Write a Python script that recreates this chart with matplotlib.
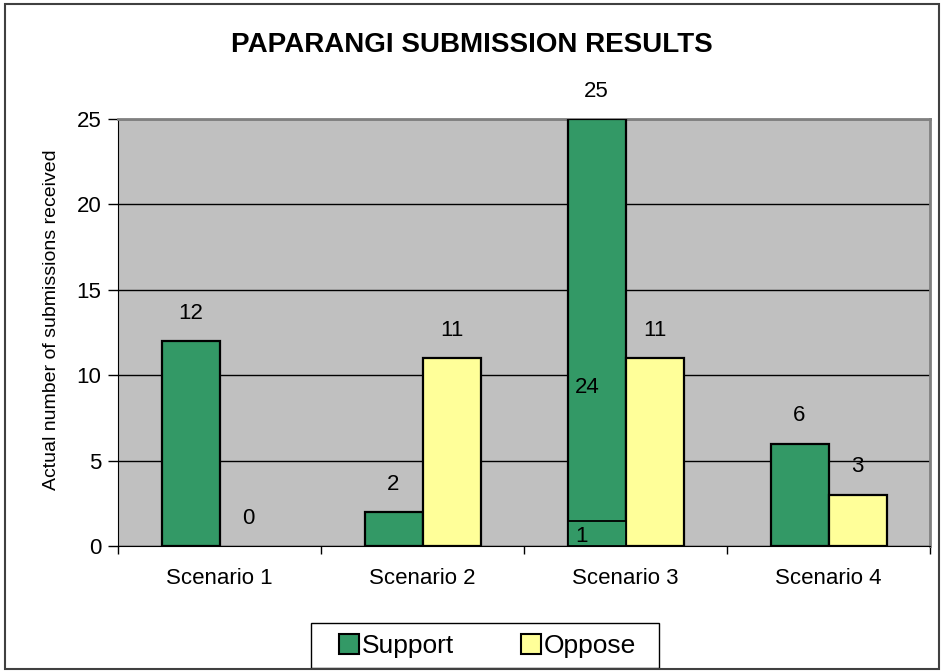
import matplotlib.pyplot as plt
from matplotlib.patches import Rectangle
from matplotlib.lines import Line2D

plt.rcParams['font.family'] = ['Liberation Sans', 'DejaVu Sans']

scenarios = ['Scenario 1', 'Scenario 2', 'Scenario 3', 'Scenario 4']
support = [12, 2, 25, 6]
oppose = [0, 11, 11, 3]
# scenario 3 support bar is split in two parts
s3_lower = 1.45
s3_labels = ['1', '24']

green = '#339966'
yellow = '#FFFF99'

fig = plt.figure(figsize=(9.44, 6.72), dpi=100)
ax = fig.add_axes([118/944, 1 - 546/672, (930 - 118)/944, (546 - 119)/672])
ax.set_facecolor('#C0C0C0')

w = 58 / 203
xs = list(range(len(scenarios)))
ax.bar([x - w/2 for x in xs], support, width=w, color=green, edgecolor='black',
       linewidth=[1.6 if v else 0 for v in support], zorder=3)
ax.bar([x + w/2 for x in xs], oppose, width=w, color=yellow, edgecolor='black',
       linewidth=[1.6 if v else 0 for v in oppose], zorder=3)
ax.bar(2 - w/2, s3_lower, width=w, color=green, edgecolor='black', linewidth=1.3, zorder=4)

fs = 16
for x, v in zip(xs, support):
    ax.annotate(str(v), (x - w/2, v), xytext=(0, 20), textcoords='offset points',
                ha='center', va='center', fontsize=fs)
for x, v in zip(xs, oppose):
    ax.annotate(str(v), (x + w/2, v), xytext=(0, 20), textcoords='offset points',
                ha='center', va='center', fontsize=fs)
ax.text(2 - w/2 - 0.044, 9.3, s3_labels[1], ha='center', va='center', fontsize=fs, zorder=5)
ax.text(2 - w/2 - 0.074, 0.53, s3_labels[0], ha='center', va='center', fontsize=fs, zorder=5)

ax.set_xlim(-0.5, 3.5)
ax.set_ylim(0, 25)
ax.set_yticks([0, 5, 10, 15, 20, 25])
ax.yaxis.grid(True, color='black', linewidth=1.0, zorder=1)
ax.set_axisbelow(True)
ax.set_xticks([-0.5, 0.5, 1.5, 2.5, 3.5])
ax.set_xticklabels([])
ax.set_xticks(xs, minor=True)
ax.set_xticklabels(scenarios, minor=True, fontsize=fs)
ax.tick_params(axis='x', which='major', direction='out', length=6, width=1, color='black')
ax.tick_params(axis='x', which='minor', length=0, pad=16)
ax.tick_params(axis='y', direction='out', length=7, width=1, labelsize=fs, pad=5)

ax.spines['top'].set_color('#808080')
ax.spines['top'].set_linewidth(2)
ax.spines['right'].set_color('#808080')
ax.spines['right'].set_linewidth(2)
ax.spines['left'].set_color('black')
ax.spines['bottom'].set_color('black')

ax.set_ylabel('Actual number of submissions received', fontsize=14)
ax.yaxis.set_label_coords((60 - 118) / 812, (546 - 320) / 427)

fig.text(472/944, 1 - 45/672, 'PAPARANGI SUBMISSION RESULTS', ha='center', va='center',
         fontsize=20, fontweight='bold')

# legend box drawn separately so the padding can match
fig.patches.append(Rectangle((311/944, 1 - 668/672), 348/944, 45/672, transform=fig.transFigure,
                             facecolor='white', edgecolor='black', linewidth=1.0))
handles = [Line2D([], [], marker='s', linestyle='none', markersize=14, markerfacecolor=green,
                  markeredgecolor='black', markeredgewidth=1.5),
           Line2D([], [], marker='s', linestyle='none', markersize=14, markerfacecolor=yellow,
                  markeredgecolor='black', markeredgewidth=1.5)]
leg = fig.legend(handles, ['Support', 'Oppose'], loc='center', bbox_to_anchor=(486/944, 1 - 646/672),
                 ncol=2, fontsize=19, frameon=False, handletextpad=0.0, columnspacing=2.4,
                 borderpad=0.2, handlelength=1.0)

fig.patches.append(Rectangle((5/944, 3/672), 934/944, 665/672, transform=fig.transFigure,
                             fill=False, edgecolor='#404040', linewidth=1.5))

fig.savefig('out.png', dpi=100)
